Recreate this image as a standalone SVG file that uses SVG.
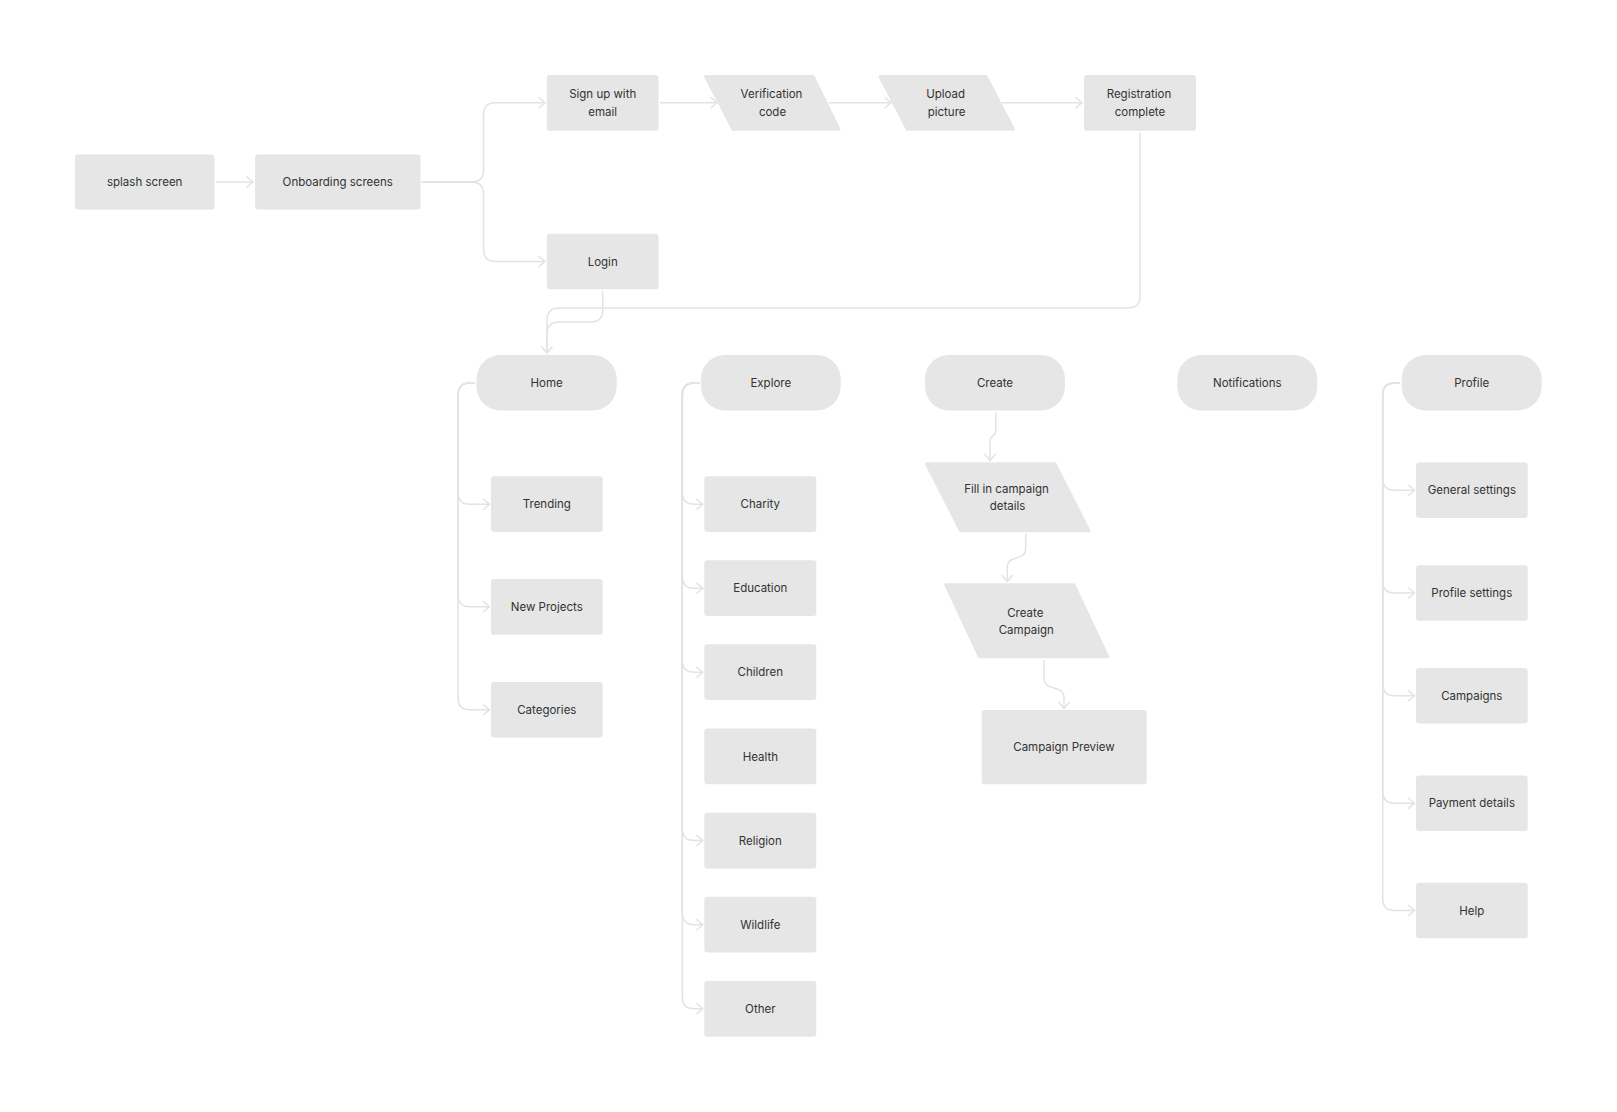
<svg xmlns="http://www.w3.org/2000/svg" width="1617" height="1112" viewBox="0 0 1617 1112">
<style>
.box{fill:#e6e6e6;}
.par{fill:#e6e6e6;stroke:#e6e6e6;stroke-width:3;stroke-linejoin:round;}
.t{font-family:Inter,"Liberation Sans",sans-serif;font-size:11.5px;fill:#333333;text-anchor:middle;}
.c{fill:none;stroke:#e3e3e3;stroke-width:1.5;}
</style>
<defs>
<marker id="arr" markerWidth="12" markerHeight="14" refX="9" refY="7" orient="auto" markerUnits="userSpaceOnUse">
<path d="M2.5,1.5 L9,7 L2.5,12.5" fill="none" stroke="#e3e3e3" stroke-width="1.5"/>
</marker>
</defs>
<rect width="1617" height="1112" fill="#ffffff"/>

<g id="connectors">
<path class="c" d="M216,182 H253" marker-end="url(#arr)"/>
<path class="c" d="M421,182 H471 Q483.6,182 483.6,170 V114.8 Q483.6,102.8 495.6,102.8 H545" marker-end="url(#arr)"/>
<path class="c" d="M421,182 H471 Q483.6,182 483.6,194 V249.5 Q483.6,261.5 495.6,261.5 H545" marker-end="url(#arr)"/>
<path class="c" d="M660,102.8 H717" marker-end="url(#arr)"/>
<path class="c" d="M829,102.8 H891" marker-end="url(#arr)"/>
<path class="c" d="M1002,102.8 H1082" marker-end="url(#arr)"/>
<path class="c" d="M1140,132.5 V296 Q1140,308 1128,308 H559 Q547,308 547,320 V353" marker-end="url(#arr)"/>
<path class="c" d="M602.7,291 V310 Q602.7,322 590.7,322 H559 Q547,322 547,334 V353"/>
<!-- Home -->
<path class="c" d="M475,383 H470 Q458,383 458,395 V492.2 Q458,504.2 470,504.2 H489.5" marker-end="url(#arr)"/>
<path class="c" d="M475,383 H470 Q458,383 458,395 V594.8 Q458,606.8 470,606.8 H489.5" marker-end="url(#arr)"/>
<path class="c" d="M475,383 H470 Q458,383 458,395 V697.7 Q458,709.7 470,709.7 H489.5" marker-end="url(#arr)"/>
<!-- Explore -->
<path class="c" d="M700,383 H694.3 Q682.3,383 682.3,395 V492.2 Q682.3,504.2 694.3,504.2 H702.8" marker-end="url(#arr)"/>
<path class="c" d="M700,383 H694.3 Q682.3,383 682.3,395 V576.2 Q682.3,588.2 694.3,588.2 H702.8" marker-end="url(#arr)"/>
<path class="c" d="M700,383 H694.3 Q682.3,383 682.3,395 V660.2 Q682.3,672.2 694.3,672.2 H702.8" marker-end="url(#arr)"/>
<path class="c" d="M700,383 H694.3 Q682.3,383 682.3,395 V828.5 Q682.3,840.5 694.3,840.5 H702.8" marker-end="url(#arr)"/>
<path class="c" d="M700,383 H694.3 Q682.3,383 682.3,395 V912.7 Q682.3,924.7 694.3,924.7 H702.8" marker-end="url(#arr)"/>
<path class="c" d="M700,383 H694.3 Q682.3,383 682.3,395 V996.8 Q682.3,1008.8 694.3,1008.8 H702.8" marker-end="url(#arr)"/>
<!-- Profile -->
<path class="c" d="M1400,383 H1394.7 Q1382.7,383 1382.7,395 V478.2 Q1382.7,490.2 1394.7,490.2 H1414.5" marker-end="url(#arr)"/>
<path class="c" d="M1400,383 H1394.7 Q1382.7,383 1382.7,395 V581 Q1382.7,593 1394.7,593 H1414.5" marker-end="url(#arr)"/>
<path class="c" d="M1400,383 H1394.7 Q1382.7,383 1382.7,395 V683.8 Q1382.7,695.8 1394.7,695.8 H1414.5" marker-end="url(#arr)"/>
<path class="c" d="M1400,383 H1394.7 Q1382.7,383 1382.7,395 V791.2 Q1382.7,803.2 1394.7,803.2 H1414.5" marker-end="url(#arr)"/>
<path class="c" d="M1400,383 H1394.7 Q1382.7,383 1382.7,395 V898.5 Q1382.7,910.5 1394.7,910.5 H1414.5" marker-end="url(#arr)"/>
<!-- Create flow -->
<path class="c" d="M995.7,412.5 V431 C995.7,437 990,435 990,441 V460.5" marker-end="url(#arr)"/>
<path class="c" d="M1025.7,534 V549 C1025.7,562 1007.3,554 1007.3,567 V581.5" marker-end="url(#arr)"/>
<path class="c" d="M1044,660 V678 C1044,692 1064,684 1064,698 V708.5" marker-end="url(#arr)"/>
</g>

<g id="splash"><rect class="box" x="75" y="154.5" width="139.5" height="55" rx="3"/><text class="t" x="144.7" y="186">splash screen</text></g>
<g id="onboarding"><rect class="box" x="255" y="154.5" width="165.5" height="55" rx="3"/><text class="t" x="337.7" y="186">Onboarding screens</text></g>
<g id="signup"><rect class="box" x="546.8" y="75" width="111.7" height="55.7" rx="3"/><text class="t" x="602.7" y="98">Sign up with</text><text class="t" x="602.7" y="115.5">email</text></g>
<g id="verification"><polygon class="par" points="705.5,76.5 813,76.5 839,129.2 733,129.2"/><text class="t" x="771.5" y="98">Verification</text><text class="t" x="772.5" y="115.5">code</text></g>
<g id="upload"><polygon class="par" points="880,76.5 986,76.5 1013.5,129.2 907.3,129.2"/><text class="t" x="945.6" y="98">Upload</text><text class="t" x="946.6" y="115.5">picture</text></g>
<g id="registration"><rect class="box" x="1084" y="75" width="112" height="55.7" rx="3"/><text class="t" x="1139" y="98">Registration</text><text class="t" x="1140" y="115.5">complete</text></g>
<g id="login"><rect class="box" x="546.8" y="233.7" width="111.7" height="55.6" rx="3"/><text class="t" x="602.7" y="265.5">Login</text></g>

<g id="home"><rect class="box" x="476.5" y="355" width="140.2" height="55.5" rx="24"/><text class="t" x="546.6" y="387">Home</text></g>
<g id="explore"><rect class="box" x="701" y="355" width="139.7" height="55.5" rx="24"/><text class="t" x="770.8" y="387">Explore</text></g>
<g id="create"><rect class="box" x="925" y="355" width="140" height="55.5" rx="24"/><text class="t" x="995" y="387">Create</text></g>
<g id="notifications"><rect class="box" x="1177.3" y="355" width="140" height="55.5" rx="24"/><text class="t" x="1247.3" y="387">Notifications</text></g>
<g id="profile"><rect class="box" x="1401.7" y="355" width="140" height="55.5" rx="24"/><text class="t" x="1471.7" y="387">Profile</text></g>

<g id="trending"><rect class="box" x="491" y="476.3" width="111.7" height="55.7" rx="3"/><text class="t" x="546.8" y="508.2">Trending</text></g>
<g id="newprojects"><rect class="box" x="491" y="579" width="111.7" height="55.7" rx="3"/><text class="t" x="546.8" y="610.8">New Projects</text></g>
<g id="categories"><rect class="box" x="491" y="682" width="111.7" height="55.5" rx="3"/><text class="t" x="546.8" y="713.7">Categories</text></g>

<g id="charity"><rect class="box" x="704.3" y="476.3" width="112" height="55.7" rx="3"/><text class="t" x="760.3" y="508.2">Charity</text></g>
<g id="education"><rect class="box" x="704.3" y="560.3" width="112" height="55.7" rx="3"/><text class="t" x="760.3" y="592.2">Education</text></g>
<g id="children"><rect class="box" x="704.3" y="644.3" width="112" height="55.7" rx="3"/><text class="t" x="760.3" y="676.2">Children</text></g>
<g id="health"><rect class="box" x="704.3" y="728.6" width="112" height="55.7" rx="3"/><text class="t" x="760.3" y="760.5">Health</text></g>
<g id="religion"><rect class="box" x="704.3" y="812.7" width="112" height="55.7" rx="3"/><text class="t" x="760.3" y="844.5">Religion</text></g>
<g id="wildlife"><rect class="box" x="704.3" y="896.8" width="112" height="55.7" rx="3"/><text class="t" x="760.3" y="928.7">Wildlife</text></g>
<g id="other"><rect class="box" x="704.3" y="981" width="112" height="55.7" rx="3"/><text class="t" x="760.3" y="1012.8">Other</text></g>

<g id="fillin"><polygon class="par" points="926.5,463.8 1055,463.8 1089,530.8 960.5,530.8"/><text class="t" x="1006.5" y="492.5">Fill in campaign</text><text class="t" x="1007.5" y="510">details</text></g>
<g id="createcampaign"><polygon class="par" points="945.8,584.8 1074,584.8 1107.8,656.8 979.5,656.8"/><text class="t" x="1025.3" y="616.8">Create</text><text class="t" x="1026.3" y="634.3">Campaign</text></g>
<g id="preview"><rect class="box" x="981.7" y="710" width="165" height="74.3" rx="3"/><text class="t" x="1064" y="751">Campaign Preview</text></g>

<g id="generalsettings"><rect class="box" x="1416" y="462.5" width="111.7" height="55.5" rx="3"/><text class="t" x="1471.8" y="494.2">General settings</text></g>
<g id="profilesettings"><rect class="box" x="1416" y="565.3" width="111.7" height="55.5" rx="3"/><text class="t" x="1471.8" y="597">Profile settings</text></g>
<g id="campaigns"><rect class="box" x="1416" y="668" width="111.7" height="55.5" rx="3"/><text class="t" x="1471.8" y="699.8">Campaigns</text></g>
<g id="payment"><rect class="box" x="1416" y="775.5" width="111.7" height="55.5" rx="3"/><text class="t" x="1471.8" y="807.2">Payment details</text></g>
<g id="help"><rect class="box" x="1416" y="882.7" width="111.7" height="55.5" rx="3"/><text class="t" x="1471.8" y="914.5">Help</text></g>
</svg>
